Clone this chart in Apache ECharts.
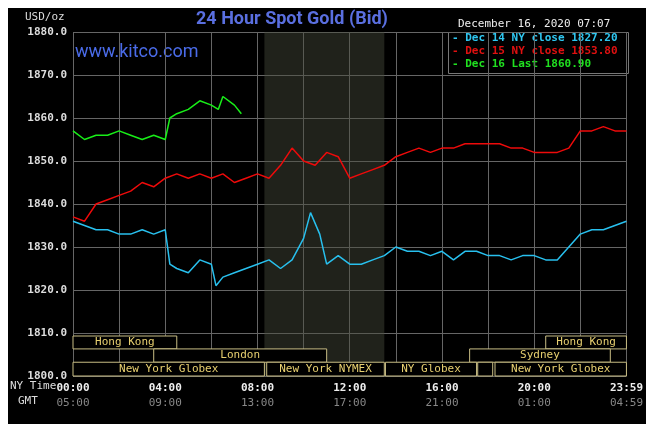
<!DOCTYPE html>
<html>
<head>
<meta charset="utf-8">
<script src="https://cdn.jsdelivr.net/npm/echarts@6/dist/echarts.min.js"></script>
<style>
body{margin:0;background:#fff}
#c{position:absolute;left:0;top:0;width:646px;height:424px}
</style>
</head>
<body>
<div id="c"></div>
<script>
// hours since 00:00 NY time, price
var dec14 = [[0,1836],[0.5,1835],[1,1834],[1.5,1834],[2,1833],[2.5,1833],[3,1834],[3.5,1833],[4,1834],[4.2,1826],[4.5,1825],[5,1824],[5.5,1827],[6,1826],[6.2,1821],[6.5,1823],[7,1824],[7.5,1825],[8,1826],[8.5,1827],[9,1825],[9.5,1827],[10,1832],[10.3,1838],[10.7,1833],[11,1826],[11.5,1828],[12,1826],[12.5,1826],[13,1827],[13.5,1828],[14,1830],[14.5,1829],[15,1829],[15.5,1828],[16,1829],[16.5,1827],[17,1829],[17.5,1829],[18,1828],[18.5,1828],[19,1827],[19.5,1828],[20,1828],[20.5,1827],[21,1827],[21.5,1830],[22,1833],[22.5,1834],[23,1834],[23.5,1835],[24,1836]];
var dec15 = [[0,1837],[0.5,1836],[1,1840],[1.5,1841],[2,1842],[2.5,1843],[3,1845],[3.5,1844],[4,1846],[4.5,1847],[5,1846],[5.5,1847],[6,1846],[6.5,1847],[7,1845],[7.5,1846],[8,1847],[8.5,1846],[9,1849],[9.5,1853],[10,1850],[10.5,1849],[11,1852],[11.5,1851],[12,1846],[12.5,1847],[13,1848],[13.5,1849],[14,1851],[14.5,1852],[15,1853],[15.5,1852],[16,1853],[16.5,1853],[17,1854],[17.5,1854],[18,1854],[18.5,1854],[19,1853],[19.5,1853],[20,1852],[20.5,1852],[21,1852],[21.5,1853],[22,1857],[22.5,1857],[23,1858],[23.5,1857],[24,1857]];
var dec16 = [[0,1857],[0.5,1855],[1,1856],[1.5,1856],[2,1857],[2.5,1856],[3,1855],[3.5,1856],[4,1855],[4.2,1860],[4.5,1861],[5,1862],[5.5,1864],[6,1863],[6.3,1862],[6.5,1865],[7,1863],[7.3,1861]];
var nyTimes = ['00:00','04:00','08:00','12:00','16:00','20:00','23:59'];
var gmtTimes = ['05:00','09:00','13:00','17:00','21:00','01:00','04:59'];
// [start hour, end hour, row, label]
var sessions = [
  [0,4.5,0,'Hong Kong'],[20.5,24,0,'Hong Kong'],
  [3.5,11,1,'London'],[17.2,23.3,1,'Sydney'],
  [0,8.3,2,'New York Globex'],[8.4,13.5,2,'New York NYMEX'],[13.55,17.5,2,'NY Globex'],[17.55,18.2,2,''],[18.3,24,2,'New York Globex']
];
var rowTop = [1809.3,1806.3,1803.2], rowBot = [1806.3,1803.2,1800];

var mono = 'DejaVu Sans Mono';
var chart = echarts.init(document.getElementById('c'));
chart.setOption({
  backgroundColor: '#000',
  animation: false,
  grid: {left: 73, right: 18, top: 32, bottom: 48},
  graphic: [
    {type:'rect', left:0, top:0, shape:{width:646,height:424}, style:{fill:'none',stroke:'#fff',lineWidth:8}, silent:true},
    {type:'text', left:25, top:12, style:{text:'USD/oz', fill:'#ddd', font:'11px '+mono}},
    {type:'text', left:196, top:10, style:{text:'24 Hour Spot Gold (Bid)', fill:'#5a6fe0', font:'bold 18px Roboto'}},
    {type:'text', left:75, top:43, style:{text:'www.kitco.com', fill:'#4a6be8', font:'18px Roboto'}},
    {type:'text', left:458, top:19, style:{text:'December 16, 2020 07:07', fill:'#eee', font:'11px '+mono}},
    {type:'rect', left:448, top:32, shape:{width:180,height:41}, style:{fill:'#000',stroke:'#777'}},
    {type:'text', left:452, top:33, style:{text:'- Dec 14 NY close 1827.20', fill:'#2ec6f0', font:'bold 11px '+mono}},
    {type:'text', left:452, top:46, style:{text:'- Dec 15 NY close 1853.80', fill:'#e01010', font:'bold 11px '+mono}},
    {type:'text', left:452, top:59, style:{text:'- Dec 16 Last 1860.90', fill:'#20e020', font:'bold 11px '+mono}},
    {type:'text', left:10, top:381, style:{text:'NY Time', fill:'#ddd', font:'11px '+mono}},
    {type:'text', left:18, top:396, style:{text:'GMT', fill:'#ddd', font:'11px '+mono}}
  ],
  xAxis: {
    type:'value', min:0, max:24, interval:2,
    axisLine:{show:false}, axisTick:{show:false},
    splitLine:{lineStyle:{color:'#666',width:1}},
    axisLabel:{
      margin:5,
      formatter:function(v){
        if (v % 4 !== 0) return '';
        var i = v/4;
        return '{a|'+nyTimes[i]+'}\n{b|'+gmtTimes[i]+'}';
      },
      rich:{a:{color:'#eee',fontFamily:mono,fontSize:11,fontWeight:'bold',lineHeight:15},b:{color:'#888',fontFamily:mono,fontSize:11,lineHeight:15}}
    }
  },
  yAxis: {
    type:'value', min:1800, max:1880, interval:10,
    axisLine:{show:false}, axisTick:{show:false},
    splitLine:{lineStyle:{color:'#666',width:1}},
    axisLabel:{color:'#ddd', fontFamily:mono, fontSize:11, fontWeight:'bold', margin:6, formatter:function(v){return v.toFixed(1);}}
  },
  series: [
    {type:'line', data:dec14, showSymbol:false, lineStyle:{color:'#28c0ee',width:1.5}, z:3,
     markArea:{silent:true, itemStyle:{color:'rgba(70,75,60,0.45)'}, data:[[{xAxis:8.3},{xAxis:13.5}]]}},
    {type:'line', data:dec15, showSymbol:false, lineStyle:{color:'#ee0a0a',width:1.5}, z:3},
    {type:'line', data:dec16, showSymbol:false, lineStyle:{color:'#18ee18',width:1.5}, z:3},
    {type:'custom', data:sessions, z:4, silent:true,
     renderItem:function(params, api){
       var s = sessions[params.dataIndex];
       var p1 = api.coord([s[0], rowTop[s[2]]]);
       var p2 = api.coord([s[1], rowBot[s[2]]]);
       return {type:'group', children:[
         {type:'rect', shape:{x:p1[0],y:p1[1],width:p2[0]-p1[0],height:p2[1]-p1[1]}, style:{fill:'#000',stroke:'#c8bd84',lineWidth:1}},
         {type:'text', style:{text:s[3], x:(p1[0]+p2[0])/2, y:(p1[1]+p2[1])/2, align:'center', verticalAlign:'middle', fill:'#e8d070', font:'11px '+mono}}
       ]};
     }}
  ]
});
</script>
</body>
</html>
